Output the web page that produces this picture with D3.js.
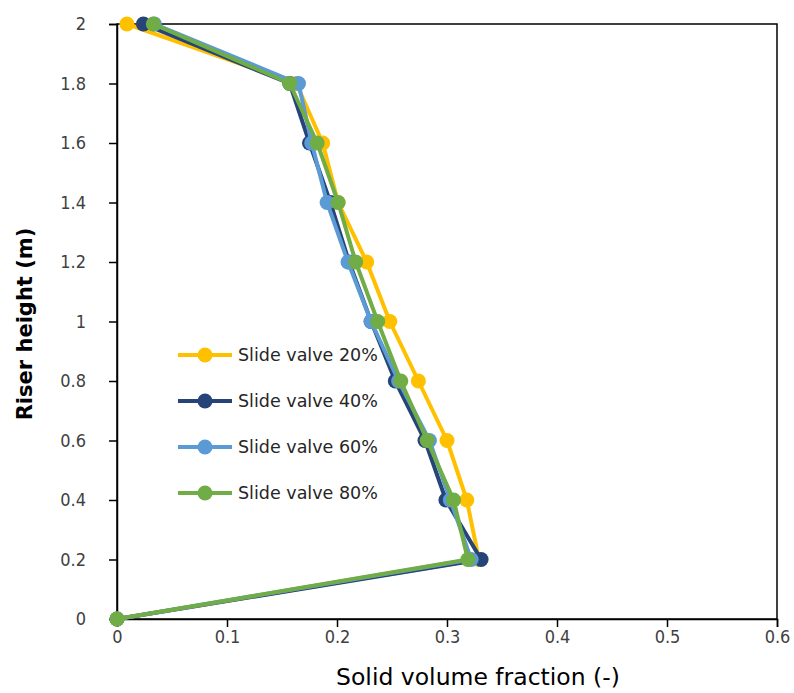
<!DOCTYPE html>
<html>
<head>
<meta charset="utf-8">
<script src="https://cdn.jsdelivr.net/npm/d3@7"></script>
<style>
  body { margin: 0; background: #fff; }
  svg { display: block; }
</style>
</head>
<body>
<svg id="chart" width="794" height="693"></svg>
<script>
// Riser heights (m) at which the solid volume fraction was sampled
const heights = [0, 0.2, 0.4, 0.6, 0.8, 1.0, 1.2, 1.4, 1.6, 1.8, 2.0];

// Solid volume fraction (-) for each slide valve opening
const valve20 = [0, 0.329, 0.318, 0.300, 0.274, 0.248, 0.227, 0.201, 0.187, 0.163, 0.009];
const valve40 = [0, 0.331, 0.299, 0.280, 0.253, 0.231, 0.211, 0.194, 0.175, 0.157, 0.024];
const valve60 = [0, 0.322, 0.303, 0.284, 0.256, 0.231, 0.210, 0.191, 0.177, 0.165, 0.034];
const valve80 = [0, 0.319, 0.306, 0.282, 0.258, 0.237, 0.217, 0.201, 0.182, 0.157, 0.033];

const seriesNames = ["Slide valve 20%", "Slide valve 40%", "Slide valve 60%", "Slide valve 80%"];
const seriesColors = ["#FFC000", "#264478", "#5B9BD5", "#70AD47"];
const seriesValues = [valve20, valve40, valve60, valve80];

const xTicks = [0, 0.1, 0.2, 0.3, 0.4, 0.5, 0.6];
const yTicks = [0, 0.2, 0.4, 0.6, 0.8, 1.0, 1.2, 1.4, 1.6, 1.8, 2.0];

const svg = d3.select("#chart");
const plot = { left: 117, right: 777, top: 24, bottom: 619 };

const x = d3.scaleLinear().domain([0, 0.6]).range([plot.left, plot.right]);
const y = d3.scaleLinear().domain([0, 2]).range([plot.bottom, plot.top]);

const tickFont = "'DejaVu Sans Condensed', 'DejaVu Sans', sans-serif";
const titleFont = "'DejaVu Sans', 'Noto Sans', sans-serif";

// Frame around the plotting area
svg.append("rect")
  .attr("x", plot.left).attr("y", plot.top)
  .attr("width", plot.right - plot.left).attr("height", plot.bottom - plot.top)
  .attr("fill", "none").attr("stroke", "#000").attr("stroke-width", 1.5);

const fmt = d => d3.format("")(+d.toFixed(1));

// X axis
const xAxis = svg.append("g")
  .attr("transform", `translate(0,${plot.bottom})`)
  .call(d3.axisBottom(x).tickValues(xTicks).tickSize(8).tickPadding(3).tickFormat(fmt));
xAxis.select(".domain").attr("stroke", "#000").attr("stroke-width", 1.5);
xAxis.selectAll(".tick line").attr("stroke", "#000").attr("stroke-width", 1.5);
xAxis.selectAll(".tick text")
  .attr("font-family", tickFont).attr("font-stretch", "condensed")
  .attr("font-size", 18).attr("fill", "#404040");

// Y axis
const yAxis = svg.append("g")
  .attr("transform", `translate(${plot.left},0)`)
  .call(d3.axisLeft(y).tickValues(yTicks).tickSize(8).tickPadding(23).tickFormat(fmt));
yAxis.select(".domain").attr("stroke", "#000").attr("stroke-width", 1.5);
yAxis.selectAll(".tick line").attr("stroke", "#000").attr("stroke-width", 1.5);
yAxis.selectAll(".tick text")
  .attr("font-family", tickFont).attr("font-stretch", "condensed")
  .attr("font-size", 18).attr("fill", "#404040");

// Axis titles
svg.append("text")
  .attr("x", 478).attr("y", 685)
  .attr("text-anchor", "middle")
  .attr("font-family", titleFont).attr("font-size", 23.5).attr("fill", "#000")
  .text("Solid volume fraction (-)");

svg.append("text")
  .attr("transform", `translate(32,324) rotate(-90)`)
  .attr("text-anchor", "middle")
  .attr("font-family", titleFont).attr("font-size", 21).attr("font-weight", "bold").attr("fill", "#000")
  .text("Riser height (m)");

// Profiles
const line = d3.line().x(d => x(d[0])).y(d => y(d[1]));

seriesValues.forEach((vals, i) => {
  const pts = vals.map((v, j) => [v, heights[j]]);
  const g = svg.append("g");
  g.append("path")
    .datum(pts)
    .attr("d", line)
    .attr("fill", "none")
    .attr("stroke", seriesColors[i])
    .attr("stroke-width", 4)
    .attr("stroke-linejoin", "round");
  g.selectAll("circle")
    .data(pts)
    .join("circle")
    .attr("cx", d => x(d[0]))
    .attr("cy", d => y(d[1]))
    .attr("r", 7.5)
    .attr("fill", seriesColors[i]);
});

// Legend
const legend = svg.append("g").attr("transform", "translate(178,355)");
seriesNames.forEach((name, i) => {
  const row = legend.append("g").attr("transform", `translate(0,${i * 46})`);
  row.append("line")
    .attr("x1", 0).attr("x2", 54).attr("y1", 0).attr("y2", 0)
    .attr("stroke", seriesColors[i]).attr("stroke-width", 4);
  row.append("circle")
    .attr("cx", 27).attr("cy", 0).attr("r", 7.5).attr("fill", seriesColors[i]);
  row.append("text")
    .attr("x", 60).attr("y", 0).attr("dy", "0.35em")
    .attr("font-family", titleFont).attr("font-size", 17.5).attr("fill", "#262626")
    .text(name);
});
</script>
</body>
</html>
